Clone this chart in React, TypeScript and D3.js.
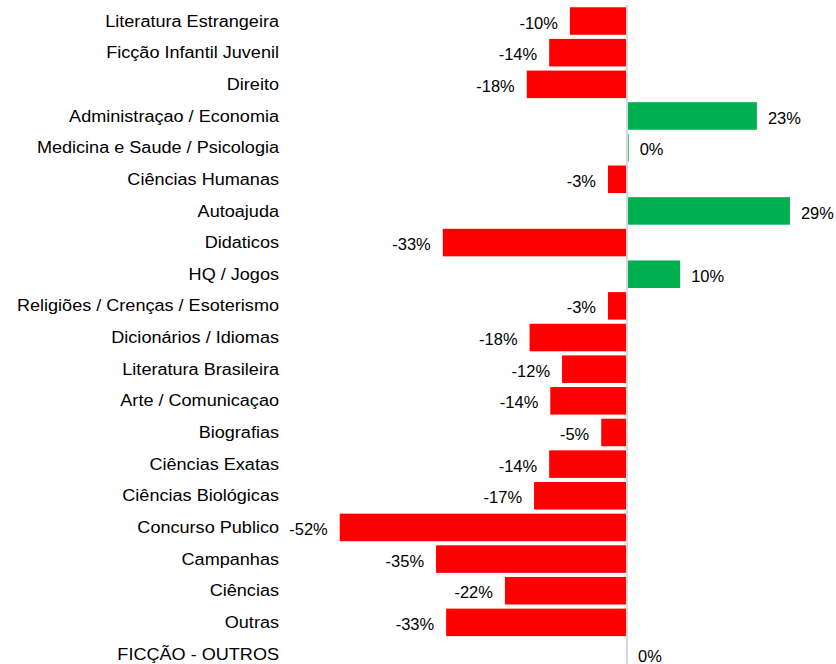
import React from "react";
import * as d3 from "d3";

const categories = [
  "Literatura Estrangeira",
  "Ficção Infantil Juvenil",
  "Direito",
  "Administraçao / Economia",
  "Medicina e Saude / Psicologia",
  "Ciências Humanas",
  "Autoajuda",
  "Didaticos",
  "HQ / Jogos",
  "Religiões / Crenças / Esoterismo",
  "Dicionários / Idiomas",
  "Literatura Brasileira",
  "Arte / Comunicaçao",
  "Biografias",
  "Ciências Exatas",
  "Ciências Biológicas",
  "Concurso Publico",
  "Campanhas",
  "Ciências",
  "Outras",
  "FICÇÃO - OUTROS",
];

const values = [
  -10.2, -13.9, -17.9, 23.2, 0.3, -3.4, 29.1, -32.9, 9.5, -3.4, -17.4, -11.6,
  -13.7, -4.6, -13.9, -16.6, -51.3, -34.1, -21.8, -32.3, 0,
];

const labels = [
  "-10%", "-14%", "-18%", "23%", "0%", "-3%", "29%", "-33%", "10%", "-3%",
  "-18%", "-12%", "-14%", "-5%", "-14%", "-17%", "-52%", "-35%", "-22%",
  "-33%", "0%",
];

const W = 836;
const H = 664;

export default function App() {
  const x = d3.scaleLinear().domain([-60, 35]).range([291, 823]);
  const y = d3
    .scaleBand<string>()
    .domain(categories)
    .range([5.2, 5.2 + 31.65 * categories.length])
    .paddingInner(0.13)
    .paddingOuter(0.065);
  const x0 = x(0);
  const font = "Arial, 'Liberation Sans', sans-serif";

  return (
    <div style={{ position: "absolute", left: 0, top: 0 }}>
      <svg width={W} height={H} style={{ display: "block", background: "#fff" }}>
        {categories.map((c, i) => {
          const v = values[i];
          const yy = y(c)!;
          const bh = y.bandwidth();
          const cy = yy + bh / 2;
          const hasBar = i < categories.length - 1;
          const x1 = x(Math.min(0, v));
          const x2 = x(Math.max(0, v));
          const neg = v < 0;
          const lx = neg ? x1 - 12 : x2 + 11;
          return (
            <g key={c}>
              {hasBar && (
                <rect
                  x={x1}
                  y={yy}
                  width={Math.max(0, x2 - x1)}
                  height={bh}
                  fill={neg ? "#ff0000" : "#00b050"}
                />
              )}
              <text
                transform={`translate(279,${cy}) scale(1.13,1)`}
                dy="0.35em"
                textAnchor="end"
                fontFamily={font}
                fontSize={16}
                fill="#000"
              >
                {c}
              </text>
              <text
                transform={`translate(${lx},${cy + 2}) scale(1.03,1)`}
                dy="0.35em"
                textAnchor={neg ? "end" : "start"}
                fontFamily={font}
                fontSize={16}
                fill="#000"
              >
                {labels[i]}
              </text>
            </g>
          );
        })}
        <line x1={x0} x2={x0} y1={5} y2={H} stroke="#d9d9d9" strokeWidth={2} />
      </svg>
    </div>
  );
}
